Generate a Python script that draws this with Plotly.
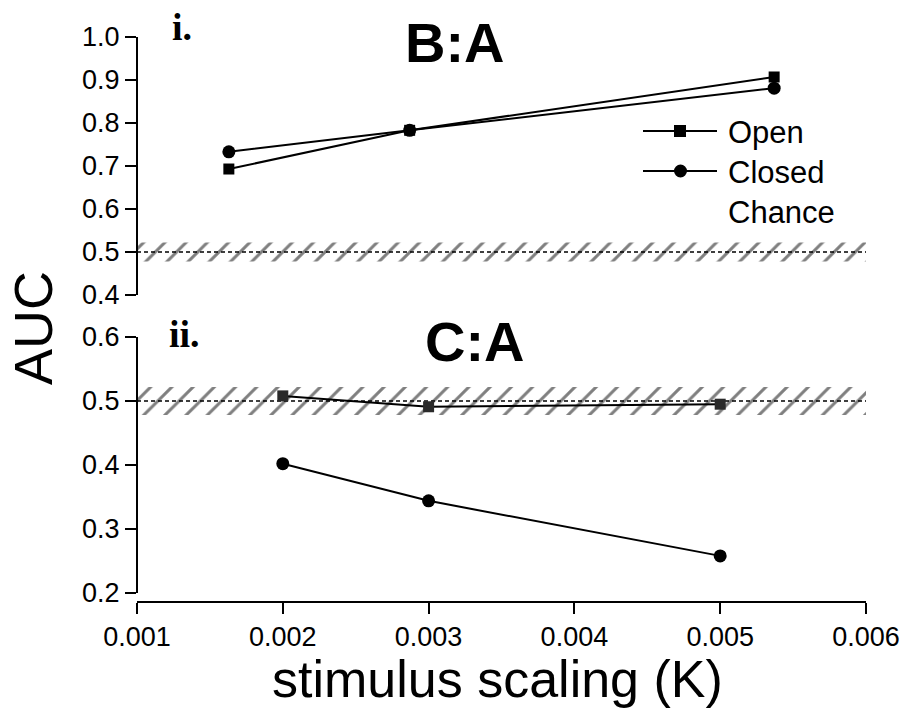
import plotly.graph_objects as go

# Panel i (B:A)
k_ba = [0.00163, 0.00287, 0.00537]
open_ba = [0.693, 0.783, 0.907]
closed_ba = [0.733, 0.783, 0.881]

# Panel ii (C:A)
k_ca = [0.002, 0.003, 0.005]
open_ca = [0.508, 0.491, 0.495]
closed_ca = [0.402, 0.344, 0.258]

chance = 0.5
chance_band = 0.022
x_ticks = [0.001, 0.002, 0.003, 0.004, 0.005, 0.006]
x_range = [0.001, 0.006]

W, H = 911, 711
L, R, T, B = 137, 45, 37, 109
PW, PH = W - L - R, H - T - B


def px(x):
    return (x - L) / PW


def py(y):
    return (H - B - y) / PH


FONT = "Liberation Sans, Arial, sans-serif"
SERIF = "Liberation Serif, Times New Roman, serif"
fig = go.Figure()


def chance_traces(yaxis):
    lo, hi = chance - chance_band, chance + chance_band
    fig.add_trace(go.Scatter(
        x=[x_range[0], x_range[1], x_range[1], x_range[0], x_range[0]],
        y=[lo, lo, hi, hi, lo], yaxis=yaxis, mode="lines",
        line=dict(width=0), fill="toself", fillcolor="white",
        fillpattern=dict(shape="/", size=15, solidity=0.2,
                         fgcolor="black", bgcolor="white"),
        showlegend=False, hoverinfo="skip"))
    fig.add_trace(go.Scatter(
        x=x_range, y=[chance, chance], yaxis=yaxis, mode="lines",
        line=dict(color="black", width=1.3, dash="4px,3px"),
        showlegend=False, hoverinfo="skip"))


def series(x, y, yaxis, symbol, size, color="black"):
    fig.add_trace(go.Scatter(
        x=x, y=y, yaxis=yaxis, mode="lines+markers",
        line=dict(color="black", width=2),
        marker=dict(symbol=symbol, size=size, color=color),
        showlegend=False))


chance_traces("y2")
series(k_ba, open_ba, "y2", "square", 11)
series(k_ba, closed_ba, "y2", "circle", 13)

chance_traces("y")
series(k_ca, open_ca, "y", "square", 11, "#2a2a2a")
series(k_ca, closed_ca, "y", "circle", 13)

tickfont = dict(family=FONT, size=27, color="black")
axis_common = dict(showgrid=False, zeroline=False, showline=True,
                   linecolor="black", linewidth=2, ticks="outside",
                   tickwidth=2, tickcolor="black", tickfont=tickfont,
                   anchor="free", position=0)
fig.update_layout(
    width=W, height=H, margin=dict(l=L, r=R, t=T, b=B),
    plot_bgcolor="white", paper_bgcolor="white",
    xaxis=dict(range=x_range, tickvals=x_ticks,
               ticktext=[f"{v:.3f}" for v in x_ticks],
               ticklen=11, **axis_common),
    yaxis=dict(domain=[py(593), py(337)], range=[0.2, 0.6],
               tickvals=[0.2, 0.3, 0.4, 0.5, 0.6],
               ticktext=["0.2", "0.3", "0.4", "0.5", "0.6"],
               ticklen=11, **axis_common),
    yaxis2=dict(domain=[py(295), py(37)], range=[0.4, 1.0],
                tickvals=[0.4, 0.5, 0.6, 0.7, 0.8, 0.9, 1.0],
                ticktext=["0.4", "0.5", "0.6", "0.7", "0.8", "0.9", "1.0"],
                ticklen=11, **axis_common),
)

ann = []


def text(x, y, s, size, family=FONT, xanchor="center", angle=0,
         yanchor="middle"):
    ann.append(dict(x=px(x), y=py(y), xref="paper", yref="paper", text=s,
                    showarrow=False, xanchor=xanchor, yanchor=yanchor,
                    textangle=angle,
                    font=dict(family=family, size=size, color="black")))


text(455, 43, "<b>B:A</b>", 56)
text(475, 341, "<b>C:A</b>", 56)
text(182, 27, "<b>i.</b>", 38, family=SERIF)
text(184, 334, "<b>ii.</b>", 38, family=SERIF)
text(33, 328, "AUC", 54, angle=-90)
text(497, 710, "stimulus scaling (K)", 52, yanchor="bottom")

# key
text(726, 132, "Open", 31, xanchor="left")
text(726, 172, "Closed", 31, xanchor="left")
text(726, 212, "Chance", 31, xanchor="left")

shapes = []
for yy in (131, 171):
    shapes.append(dict(type="line", xref="paper", yref="paper",
                       x0=px(643), x1=px(717), y0=py(yy), y1=py(yy),
                       line=dict(color="black", width=2)))
shapes.append(dict(type="rect", xref="paper", yref="paper",
                   x0=px(674), x1=px(686), y0=py(137), y1=py(125),
                   fillcolor="black", line=dict(width=0)))
shapes.append(dict(type="circle", xref="paper", yref="paper",
                   x0=px(674), x1=px(687), y0=py(177.5), y1=py(164.5),
                   fillcolor="black", line=dict(width=0)))

fig.update_layout(annotations=ann, shapes=shapes)
fig.write_html("out.html")
